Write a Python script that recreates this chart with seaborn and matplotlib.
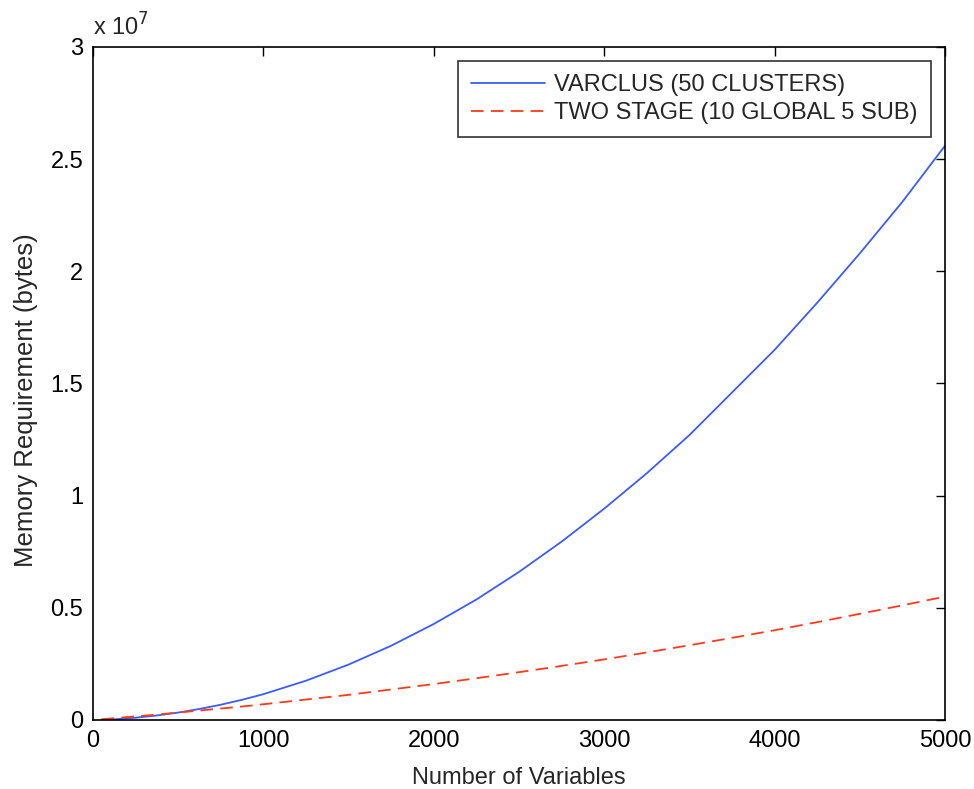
import matplotlib
matplotlib.use("Agg")
import matplotlib.pyplot as plt
import seaborn as sns
import pandas as pd
from matplotlib.ticker import FuncFormatter

# values (memory in millions of bytes)
n_vars = [50, 125, 250, 375, 500, 625, 750, 875, 1000, 1250, 1500, 1750, 2000,
          2250, 2500, 2750, 3000, 3250, 3500, 3750, 4000, 4250, 4500, 4750, 5000]
varclus_mb = [0.01, 0.03, 0.10, 0.20, 0.33, 0.49, 0.68, 0.90, 1.15, 1.75, 2.47,
              3.31, 4.28, 5.37, 6.60, 7.95, 9.42, 11.0, 12.7, 14.6, 16.5, 18.6,
              20.8, 23.1, 25.6]
two_stage_mb = [0.03, 0.08, 0.16, 0.24, 0.33, 0.42, 0.51, 0.60, 0.70, 0.91, 1.12,
                1.36, 1.60, 1.86, 2.13, 2.41, 2.70, 3.01, 3.33, 3.66, 4.00, 4.36,
                4.73, 5.11, 5.50]
series_names = ["VARCLUS (50 CLUSTERS)", "TWO STAGE (10 GLOBAL 5 SUB)"]
x_ticks = [0, 1000, 2000, 3000, 4000, 5000]
y_ticks = [0, 0.5e7, 1e7, 1.5e7, 2e7, 2.5e7, 3e7]

df = pd.concat([
    pd.DataFrame({"n": n_vars, "mem": [v * 1e6 for v in varclus_mb], "method": series_names[0]}),
    pd.DataFrame({"n": n_vars, "mem": [v * 1e6 for v in two_stage_mb], "method": series_names[1]}),
])

sns.set_style("white")
plt.rcParams['font.family'] = ['Liberation Sans', 'DejaVu Sans']
plt.rcParams['font.size'] = 17

fig = plt.figure(figsize=(9.74, 7.89), dpi=100)
ax = fig.add_axes([0.0955, 0.0875, 0.8748, 0.853])

sns.lineplot(data=df, x="n", y="mem", hue="method", style="method",
             palette={series_names[0]: "#3a5cff", series_names[1]: "#ff3a1a"},
             dashes={series_names[0]: "", series_names[1]: (7, 4)},
             linewidth=1.3, ax=ax)

ax.set_xlim(0, 5000)
ax.set_ylim(0, 3e7)
ax.set_xticks(x_ticks)
ax.set_yticks(y_ticks)
ax.yaxis.set_major_formatter(FuncFormatter(lambda v, p: "%g" % (v / 1e7)))
ax.tick_params(direction="in", length=6.5, width=1, top=True, right=True,
               labelsize=17, pad=7, colors="black")
for s in ax.spines.values():
    s.set_visible(True)
    s.set_color("black")
    s.set_linewidth(1.2)

ax.set_xlabel("Number of Variables", fontsize=17, labelpad=11)
ax.set_ylabel("Memory Requirement (bytes)", fontsize=18.5)
ax.yaxis.set_label_coords(-0.065, 0.475)
ax.text(0.0, 1.01, r"x 10$^7$", transform=ax.transAxes, fontsize=17,
        ha="left", va="bottom")

leg = ax.legend(loc="upper right", fontsize=17, frameon=True, fancybox=False,
                edgecolor="black", borderaxespad=0.6, handlelength=3.15,
                handletextpad=0.4, borderpad=0.55, labelspacing=0.25)
leg.get_frame().set_linewidth(1.2)
leg.set_title(None)

fig.savefig("out.png", dpi=100)
